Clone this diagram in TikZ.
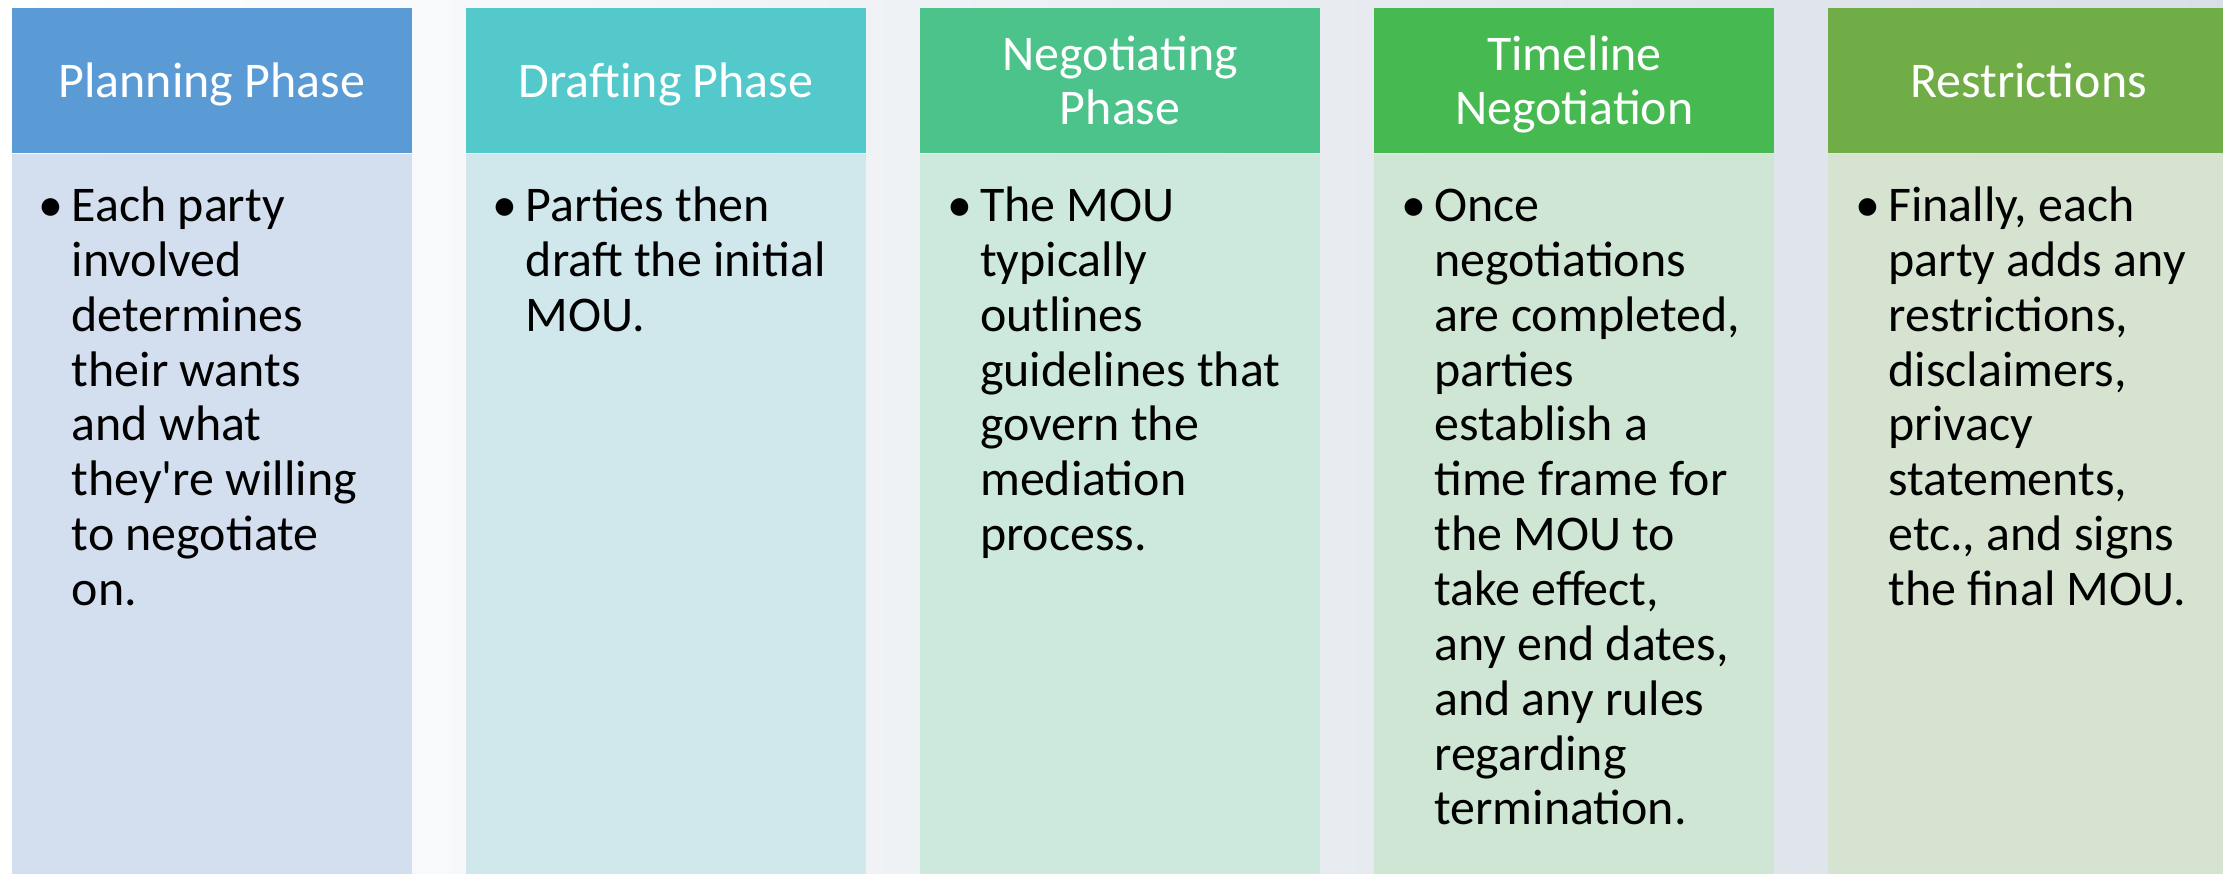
\documentclass[tikz,border=0pt]{standalone}
\usepackage{fontspec}
\setmainfont{Carlito}
\usetikzlibrary{positioning}

\definecolor{bgleft}{HTML}{FFFFFF}
\definecolor{bgmid}{HTML}{EEF0F3}
\definecolor{bgright}{HTML}{D8DFE7}
\definecolor{planhead}{HTML}{5B9BD5}
\definecolor{planbody}{HTML}{D3DFEF}
\definecolor{drafthead}{HTML}{53C9CB}
\definecolor{draftbody}{HTML}{D0E8EC}
\definecolor{negohead}{HTML}{4CC38A}
\definecolor{negobody}{HTML}{CDE9DD}
\definecolor{timehead}{HTML}{46B951}
\definecolor{timebody}{HTML}{CEE6D3}
\definecolor{resthead}{HTML}{70AD47}
\definecolor{restbody}{HTML}{D5E3D0}

\newcommand{\bulletlines}[1]{\makebox[9.4pt][l]{\textbullet}\begin{tabular}[t]{@{}l@{}}#1\end{tabular}}

\begin{document}
\begin{tikzpicture}[x=0.01cm, y=-0.01cm,
    head/.style = {rectangle, minimum width=4cm, minimum height=1.45cm, inner sep=0pt,
                   text=white, align=center, text depth=0pt, font=\fontsize{14.2}{15.6}\selectfont},
    body/.style = {rectangle, minimum width=4cm, minimum height=7.22cm, inner sep=0pt},
    txt/.style = {anchor=base west, inner sep=0pt, font=\fontsize{14.2}{15.6}\selectfont}]
    \useasboundingbox (0,0) rectangle (2223,874);
    \shade[left color=bgleft, middle color=bgmid, right color=bgright] (0,0) rectangle (2223,874);

    % headers
    \node[head, fill=planhead, anchor=north west] (h1) at (11,7) {Planning Phase};
    \node[head, fill=drafthead] (h2) [right=0.525cm of h1] {Drafting Phase};
    \node[head, fill=negohead] (h3) [right=0.525cm of h2] {Negotiating\\Phase};
    \node[head, fill=timehead] (h4) [right=0.525cm of h3] {Timeline\\Negotiation};
    \node[head, fill=resthead] (h5) [right=0.525cm of h4] {Restrictions};

    % bodies
    \node[body, fill=planbody] (b1) [below=0pt of h1] {};
    \node[body, fill=draftbody] (b2) [below=0pt of h2] {};
    \node[body, fill=negobody] (b3) [below=0pt of h3] {};
    \node[body, fill=timebody] (b4) [below=0pt of h4] {};
    \node[body, fill=restbody] (b5) [below=0pt of h5] {};

    \node[txt] (t1) at ([shift={(27,68)}]b1.north west) {\bulletlines{Each party\\involved\\determines\\their wants\\and what\\they\textquotesingle re willing\\to negotiate\\on.}};
    \node[txt] (t2) at ([shift={(27,68)}]b2.north west) {\bulletlines{Parties then\\draft the initial\\MOU.}};
    \node[txt] (t3) at ([shift={(27,68)}]b3.north west) {\bulletlines{The MOU\\typically\\outlines\\guidelines that\\govern the\\mediation\\process.}};
    \node[txt] (t4) at ([shift={(27,68)}]b4.north west) {\bulletlines{Once\\negotiations\\are completed,\\parties\\establish a\\time frame for\\the MOU to\\take effect,\\any end dates,\\and any rules\\regarding\\termination.}};
    \node[txt] (t5) at ([shift={(27,68)}]b5.north west) {\bulletlines{Finally, each\\party adds any\\restrictions,\\disclaimers,\\privacy\\statements,\\etc., and signs\\the final MOU.}};
\end{tikzpicture}
\end{document}
